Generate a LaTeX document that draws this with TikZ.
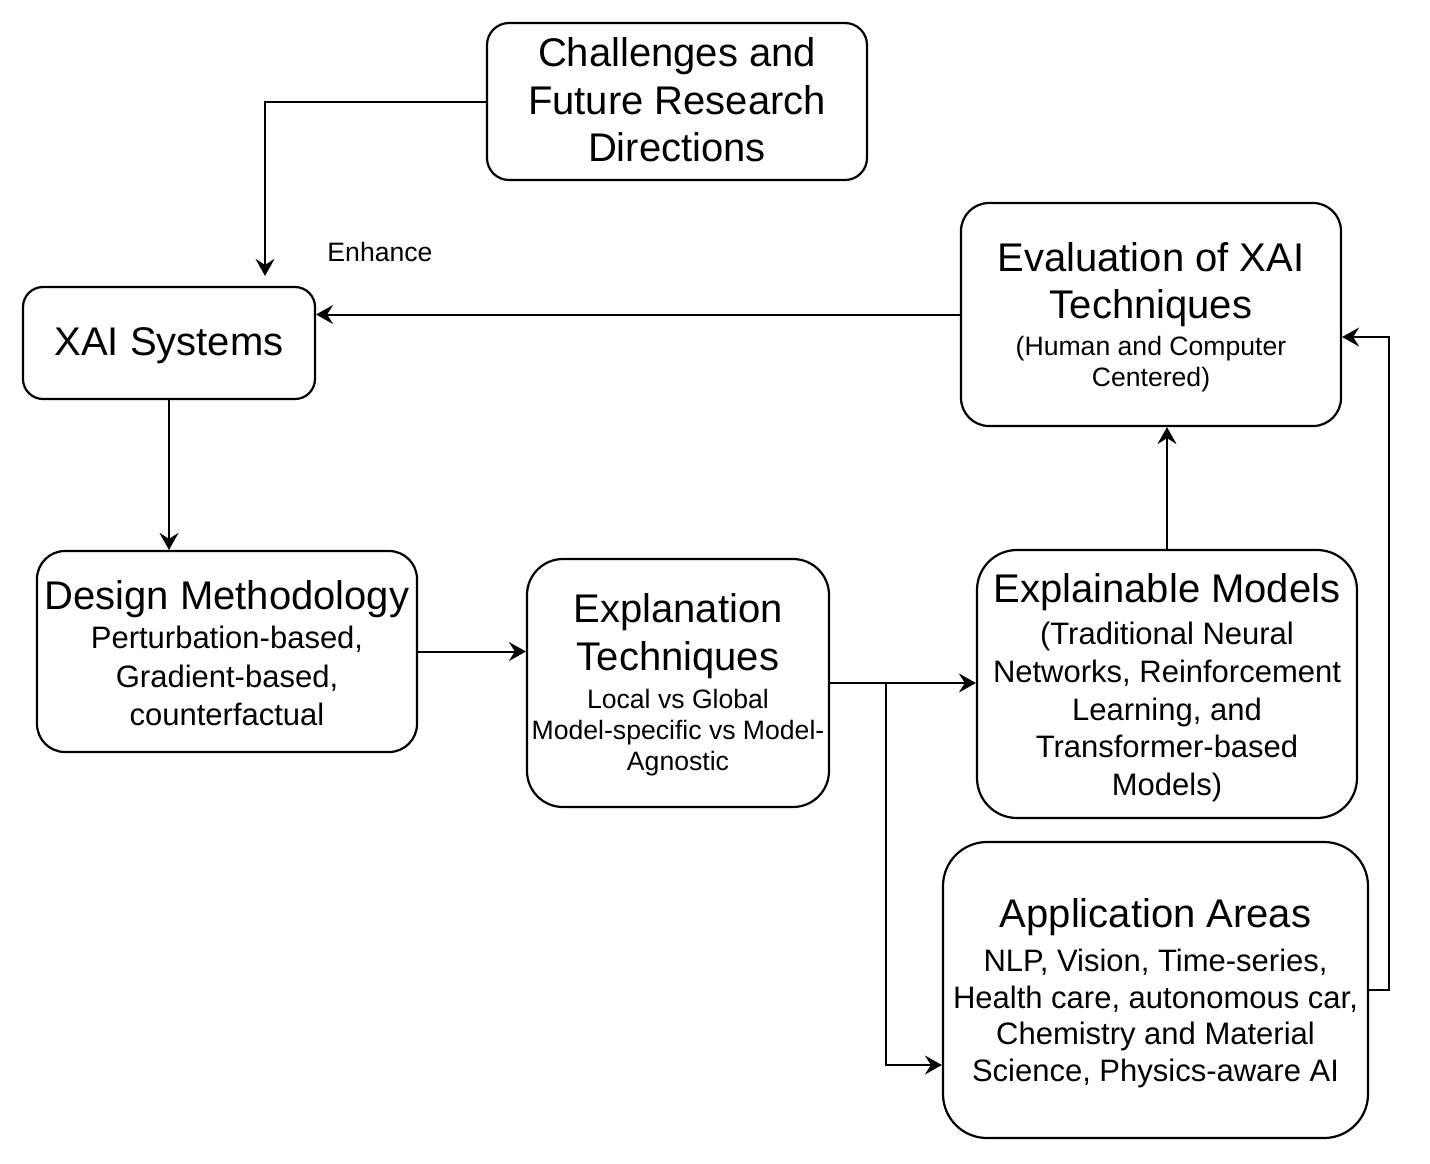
\documentclass[tikz,border=0pt]{standalone}
\usepackage{fontspec}
\setmainfont{Liberation Sans}
\usetikzlibrary{arrows.meta}
\begin{document}
\begin{tikzpicture}[x=0.5pt,y=-0.5pt,
  box/.style={draw, line width=1.1pt, rounded corners=#1, inner sep=0pt},
  conn/.style={line width=1pt, -{Stealth[length=8.5pt,width=9.5pt,inset=3pt]}},
  tbig/.style={font=\fontsize{20}{24}\selectfont, anchor=base, inner sep=0pt},
  tmid/.style={font=\fontsize{15.5}{19}\selectfont, anchor=base, inner sep=0pt},
  tsml/.style={font=\fontsize{13.3}{16}\selectfont, anchor=base, inner sep=0pt}]
\useasboundingbox (0,0) rectangle (1430,1163);
\fill[white] (0,0) rectangle (1430,1163);

% boxes
\node[box=11pt, minimum width=190pt, minimum height=78.5pt] (chal) at (677,101.5) {};
\node[box=10pt, minimum width=146pt, minimum height=56pt] (xai) at (169,343) {};
\node[box=14pt, minimum width=190pt, minimum height=111.5pt] (eval) at (1151,314.5) {};
\node[box=14pt, minimum width=190pt, minimum height=100.5pt] (design) at (227,651.5) {};
\node[box=18pt, minimum width=151pt, minimum height=124pt] (expl) at (678,683) {};
\node[box=20pt, minimum width=190pt, minimum height=134pt] (models) at (1167,684) {};
\node[box=22pt, minimum width=212.5pt, minimum height=148pt] (app) at (1155.5,990) {};

% texts
\node[tbig] (chal1) at (677,66) {Challenges and};
\node[tbig] (chal2) at (677,114) {Future Research};
\node[tbig] (chal3) at (677,161) {Directions};

\node[tbig] (xai1) at (169,355) {XAI Systems};

\node[tsml] (enh) at (380,261) {Enhance};

\node[tbig] (eval1) at (1151,271) {Evaluation of XAI};
\node[tbig] (eval2) at (1151,318) {Techniques};
\node[tsml] (eval3) at (1151,355.5) {(Human and Computer};
\node[tsml] (eval4) at (1151,386.5) {Centered)};

\node[tbig] (des1) at (227,609) {Design Methodology};
\node[tmid] (des2) at (227,648) {Perturbation-based,};
\node[tmid] (des3) at (227,687) {Gradient-based,};
\node[tmid] (des4) at (227,725) {counterfactual};

\node[tbig] (exp1) at (678,622) {Explanation};
\node[tbig] (exp2) at (678,670) {Techniques};
\node[tsml] (exp3) at (678,708) {Local vs Global};
\node[tsml] (exp4) at (678,739) {Model-specific vs Model-};
\node[tsml] (exp5) at (678,770) {Agnostic};

\node[tbig] (mod1) at (1167,602) {Explainable Models};
\node[tmid] (mod2) at (1167,644) {(Traditional Neural};
\node[tmid] (mod3) at (1167,682) {Networks, Reinforcement};
\node[tmid] (mod4) at (1167,720) {Learning, and};
\node[tmid] (mod5) at (1167,757) {Transformer-based};
\node[tmid] (mod6) at (1167,795) {Models)};

\node[tbig] (app1) at (1155.5,927) {Application Areas};
\node[tmid] (app2) at (1155.5,971) {NLP, Vision, Time-series,};
\node[tmid] (app3) at (1155.5,1008) {Health care, autonomous car,};
\node[tmid] (app4) at (1155.5,1044) {Chemistry and Material};
\node[tmid] (app5) at (1155.5,1081) {Science, Physics-aware AI};

% connectors
\draw[conn, shorten >=5pt] (chal.west) -| ([xshift=48pt]xai.north);
\draw[conn] (eval.west) -- (eval.west -| xai.east);
\draw[conn] (xai.south) -- (xai.south |- design.north);
\draw[conn] (design.east) -- (design.east -| expl.west);
\draw[conn] (expl.east) -- (expl.east -| models.west);
\coordinate (br) at (886,684);
\draw[conn] (br) |- ([yshift=-37.5pt]app.west);
\draw[conn] (models.north) -- (models.north |- eval.south);
\draw[conn] (app.east) -- ++(10pt,0) |- ([yshift=-11.25pt]eval.east);
\end{tikzpicture}
\end{document}
